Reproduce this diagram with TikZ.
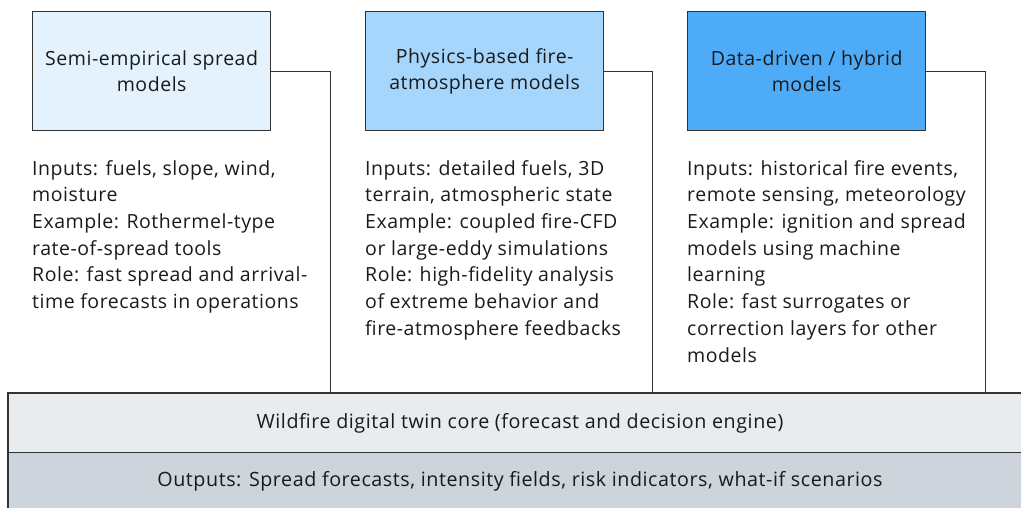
\documentclass[tikz,border=0pt]{standalone}
\usepackage{fontspec}
\setmainfont[LetterSpace=2.8]{Open Sans}
\definecolor{bxA}{HTML}{E3F2FD}
\definecolor{bxB}{HTML}{A6D6FC}
\definecolor{bxC}{HTML}{4DABF7}
\definecolor{coreC}{HTML}{E8ECEF}
\definecolor{outC}{HTML}{CED4DB}
\definecolor{edgeC}{HTML}{333333}
\definecolor{txtC}{HTML}{1A1A1A}
\tikzset{
  model/.style={draw=edgeC, line width=1.3pt, minimum width=238pt, minimum height=119pt, align=center, font=\fontsize{19.5}{26.5}\selectfont, text=txtC, inner sep=0pt},
  desc/.style={anchor=north west, align=left, font=\fontsize{19.5}{26.7}\selectfont, text=txtC, inner sep=0pt},
  bar/.style={draw=edgeC, line width=1.3pt},
  conn/.style={draw=edgeC, line width=1pt},
  bartext/.style={font=\fontsize{19.7}{24}\selectfont, text=txtC}
}
\begin{document}
\begin{tikzpicture}[x=1pt, y=-1pt]
\useasboundingbox (0,0) rectangle (1021,507);
\clip (0,0) rectangle (1021,507);
% bars
\fill[outC] (8,452) rectangle (1040,520);
\draw[bar] (8,520) -- (8,452) -- (1040,452);
\fill[coreC] (8,393) rectangle (1040,452);
\draw[bar] (8,452) -- (8,393) -- (1040,393);
\coordinate (coreA) at (330,393);
\coordinate (coreB) at (652,393);
\coordinate (coreC) at (985,393);
\node[bartext] (core) at (520,423) {Wildfire digital twin core (forecast and decision engine)};
\node[bartext] (out) at (520,481) {Outputs: Spread forecasts, intensity fields, risk indicators, what-if scenarios};
% model boxes
\node[model, fill=bxA, anchor=north west] (m1) at (32,11) {Semi-empirical spread\\models};
\node[model, fill=bxB, anchor=north west] (m2) at (365,11) {Physics-based fire-\\atmosphere models};
\node[model, fill=bxC, anchor=north west] (m3) at (687,11) {Data-driven / hybrid\\models};
% connectors
\draw[conn] (m1.east) -- (coreA |- m1.east) -- (coreA);
\draw[conn] (m2.east) -- (coreB |- m2.east) -- (coreB);
\draw[conn] (m3.east) -- (coreC |- m3.east) -- (coreC);
% descriptions
\node[desc] (d1) at (32,160) {Inputs: fuels, slope, wind,\\moisture\\Example: Rothermel-type\\rate-of-spread tools\\Role: fast spread and arrival-\\time forecasts in operations};
\node[desc] (d2) at (365,160) {Inputs: detailed fuels, 3D\\terrain, atmospheric state\\Example: coupled fire-CFD\\or large-eddy simulations\\Role: high-fidelity analysis\\of extreme behavior and\\fire-atmosphere feedbacks};
\node[desc] (d3) at (687,160) {Inputs: historical fire events,\\remote sensing, meteorology\\Example: ignition and spread\\models using machine\\learning\\Role: fast surrogates or\\correction layers for other\\models};
\end{tikzpicture}
\end{document}
